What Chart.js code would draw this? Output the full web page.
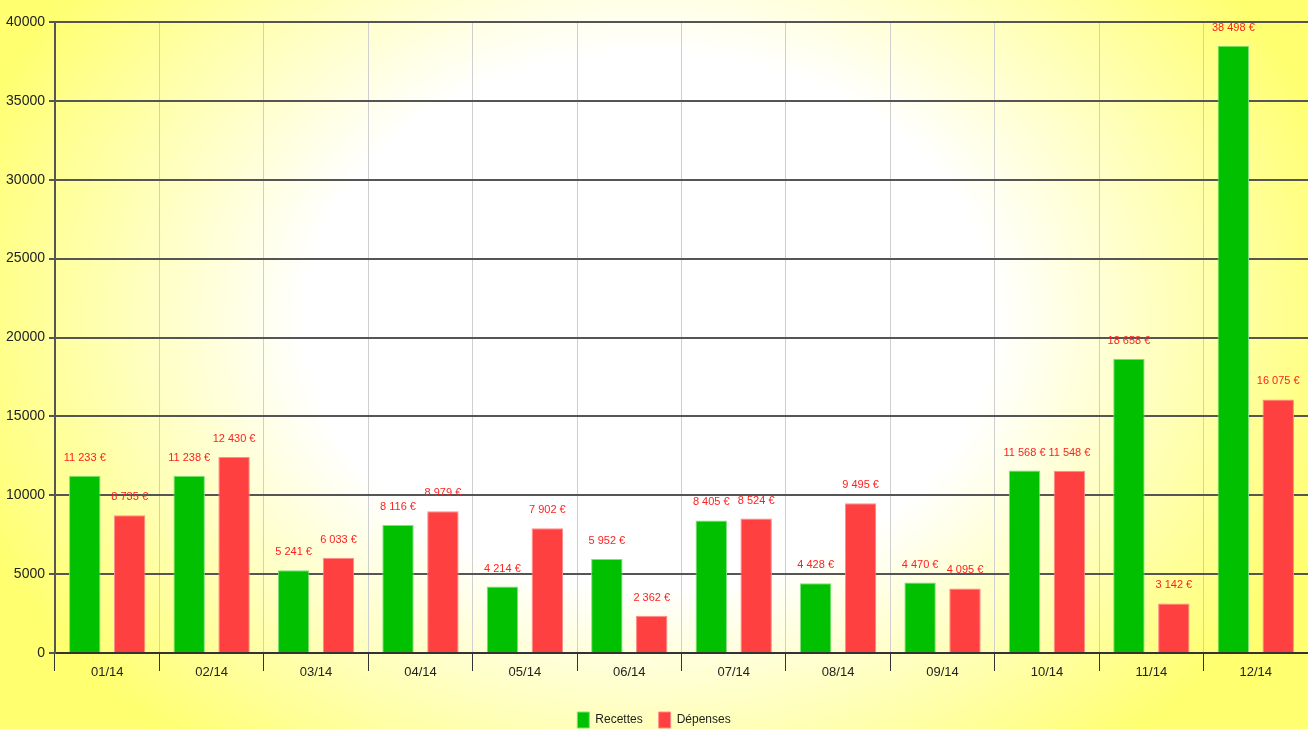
<!DOCTYPE html>
<html>
<head>
<meta charset="utf-8">
<script src="https://cdn.jsdelivr.net/npm/chart.js@4"></script>
<style>
    html, body { margin: 0; padding: 0; }
    body {
        width: 1308px;
        height: 729px;
        overflow: hidden;
        background: radial-gradient(ellipse 720px 560px at 650px 320px, #ffffff 48%, #ffff70 100%);
    }
    #wrap { position: relative; width: 1308px; height: 729px; }
</style>
</head>
<body>
<div id="wrap"><canvas id="bilan-chart"></canvas></div>
<script>
// mois de l'année 2014
var labels = ['01/14', '02/14', '03/14', '04/14', '05/14', '06/14', '07/14', '08/14', '09/14', '10/14', '11/14', '12/14'];
var recettes = [11233, 11238, 5241, 8116, 4214, 5952, 8405, 4428, 4470, 11568, 18658, 38498];
var depenses = [8735, 12430, 6033, 8979, 7902, 2362, 8524, 9495, 4095, 11548, 3142, 16075];
var yTicks = [0, 5000, 10000, 15000, 20000, 25000, 30000, 35000, 40000];

var police = "'Liberation Sans', Arial, sans-serif";

function formatEuro(v) {
    // séparateur de milliers = espace
    return String(v).replace(/\B(?=(\d{3})+(?!\d))/g, ' ') + ' €';
}

// affiche la valeur au-dessus de chaque barre
var valueLabels = {
    id: 'valueLabels',
    afterDatasetsDraw: function(chart) {
        var ctx = chart.ctx;
        ctx.save();
        ctx.font = '11px ' + police;
        ctx.fillStyle = '#ff2020';
        ctx.textAlign = 'center';
        ctx.textBaseline = 'middle';
        chart.data.datasets.forEach(function(ds, i) {
            chart.getDatasetMeta(i).data.forEach(function(bar, j) {
                ctx.fillText(formatEuro(ds.data[j]), bar.x, bar.y - 18);
            });
        });
        ctx.restore();
    }
};

var ctx = document.getElementById('bilan-chart').getContext('2d');
var bilan_chart = new Chart(ctx, {
    type: 'bar',
    data: {
        labels: labels,
        datasets: [
            {
                label: 'Recettes',
                data: recettes,
                backgroundColor: '#00c000',
                borderColor: '#7ee07e',
                borderWidth: 1,
                categoryPercentage: 0.86,
                barPercentage: 0.7
            },
            {
                label: 'Dépenses',
                data: depenses,
                backgroundColor: '#ff4040',
                borderColor: '#ff8a8a',
                borderWidth: 1,
                categoryPercentage: 0.86,
                barPercentage: 0.7
            }
        ]
    },
    options: {
        responsive: true,
        maintainAspectRatio: false,
        animation: false,
        layout: {
            padding: { top: 22, right: 0, left: 0, bottom: -9 }
        },
        plugins: {
            tooltip: { enabled: false },
            legend: {
                position: 'bottom',
                labels: {
                    boxWidth: 12,
                    boxHeight: 16,
                    padding: 16,
                    color: '#222',
                    font: { family: police, size: 12 }
                }
            }
        },
        scales: {
            x: {
                grid: {
                    offset: true,
                    color: '#cfcfcf',
                    lineWidth: 1,
                    tickColor: '#333',
                    tickLength: 18
                },
                border: { color: '#333', width: 2 },
                ticks: {
                    color: '#222',
                    padding: -6,
                    font: { family: police, size: 13 }
                },
                afterFit: function(scale) { scale.height = 43; }
            },
            y: {
                min: 0,
                max: 40000,
                afterBuildTicks: function(scale) {
                    scale.ticks = yTicks.map(function(v) { return { value: v }; });
                },
                grid: {
                    color: '#555',
                    lineWidth: 2,
                    tickColor: '#555',
                    tickLength: 6
                },
                border: { color: '#555', width: 2 },
                ticks: {
                    color: '#222',
                    padding: 4,
                    font: { family: police, size: 14 },
                    callback: function(v) { return String(v); }
                },
                afterFit: function(scale) { scale.width = 55; }
            }
        }
    },
    plugins: [valueLabels]
});
</script>
</body>
</html>
